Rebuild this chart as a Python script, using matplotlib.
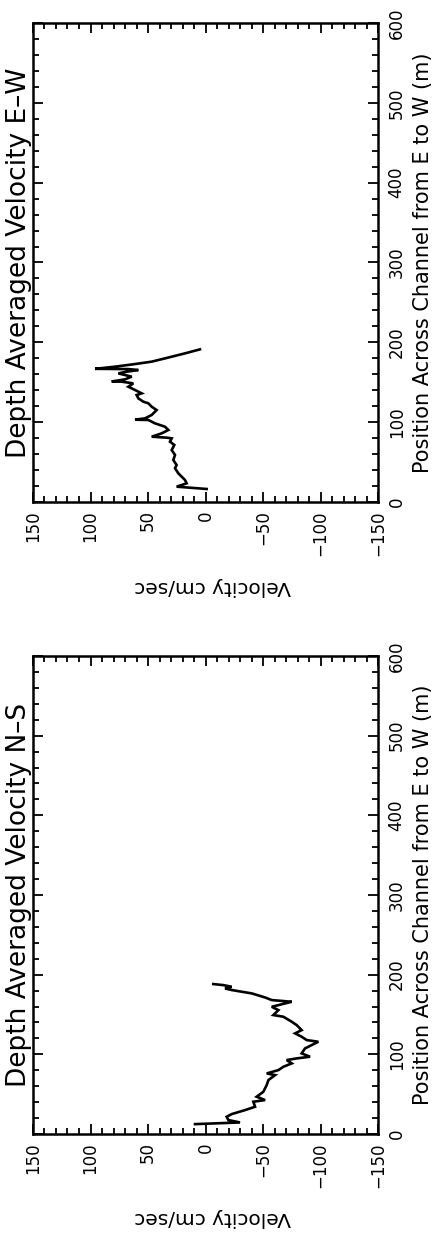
import matplotlib
matplotlib.use("Agg")
import matplotlib.pyplot as plt
from matplotlib.ticker import MultipleLocator, FixedLocator

# ---------------- data ----------------
titles = ["Depth Averaged Velocity E\u2013W", "Depth Averaged Velocity N\u2013S"]
xlabel = "Position Across Channel from E to W (m)"
ylabel = "Velocity cm/sec"

pos_ticks = [0, 100, 200, 300, 400, 500, 600]
pos_labels = ["0", "100", "200", "300", "400", "500", "600"]
vel_ticks = [150, 100, 50, 0, -50, -100, -150]
vel_labels = ["150", "100", "50", "0", "\u221250", "\u2212100", "\u2212150"]

ew_pos = [16.3, 19.2, 23.4, 27.5, 31.7, 35.9, 42.2, 46.3, 52.6, 58.9, 65.1, 71.4,
          75.6, 79.7, 80.6, 81.8, 86.0, 90.2, 94.3, 98.5, 102.7, 103.1, 104.8,
          109.0, 115.2, 119.4, 123.6, 125.7, 129.8, 134.0, 136.1, 140.3, 144.4,
          148.6, 150.7, 151.0, 153.6, 157.0, 161.1, 163.2, 165.3, 166.5, 166.8,
          169.5, 172.8, 175.8, 179.9, 186.2, 191.2]
ew_vel = [-1.0, 25.1, 16.4, 17.8, 20.7, 23.6, 26.5, 25.1, 28.0, 26.5, 29.4, 27.1,
          30.9, 29.4, 33.8, 46.8, 38.1, 32.3, 35.2, 43.9, 49.7, 61.3, 52.6,
          46.8, 42.5, 46.8, 49.7, 54.1, 58.4, 59.9, 55.5, 61.3, 67.1,
          62.8, 72.9, 81.6, 70.0, 64.2, 75.8, 68.6, 58.4, 67.1, 96.1,
          78.7, 61.3, 46.8, 35.2, 17.8, 4.8]

ns_pos = [12.4, 14.5, 17.5, 21.6, 25.0, 30.0, 34.2, 40.5, 42.6, 46.8, 53.0, 61.4,
          67.7, 73.9, 76.0, 80.2, 84.4, 88.6, 92.8, 94.9, 97.0, 101.2, 107.4,
          115.8, 117.9, 122.1, 126.3, 130.4, 136.7, 140.9, 147.2, 149.3, 155.5,
          159.7, 163.9, 166.0, 168.1, 171.4, 176.5, 180.7, 182.7, 184.8, 186.9,
          188.2]
ns_vel = [9.1, -30.0, -19.9, -18.4, -22.8, -34.4, -43.1, -41.6, -51.8, -44.5,
          -50.3, -53.2, -54.7, -60.5, -53.2, -63.4, -67.7, -75.0, -70.6, -79.3,
          -90.9, -83.6, -86.5, -98.1, -88.0, -83.6, -77.9, -83.6, -79.3, -75.0,
          -67.7, -59.0, -63.4, -57.6, -69.2, -75.0, -57.6, -51.8, -40.2, -22.8,
          -17.0, -22.8, -15.5, -6.8]

series = [(ew_pos, ew_vel), (ns_pos, ns_vel)]

# ---------------- figure ----------------
W, H = 436, 1234
fig = plt.figure(figsize=(W / 100, H / 100), dpi=100)
fig.patch.set_facecolor("white")

# axes boxes in pixels: (left, top, right, bottom)
boxes = [(33, 23, 378, 502), (33, 656, 378, 1134)]

for (l, t, r, b), (pos, vel), title in zip(boxes, series, titles):
    ax = fig.add_axes([l / W, 1 - b / H, (r - l) / W, (b - t) / H])
    # velocity horizontal (inverted), position vertical
    ax.plot(vel, pos, color="black", lw=1.9, solid_joinstyle="miter")
    ax.set_xlim(150, -150)
    ax.set_ylim(0, 600)

    ax.xaxis.set_major_locator(FixedLocator(vel_ticks))
    ax.set_xticklabels(vel_labels, rotation=90, va="top", ha="center", fontsize=12)
    ax.xaxis.set_minor_locator(MultipleLocator(10))
    ax.yaxis.set_major_locator(FixedLocator(pos_ticks))
    ax.set_yticklabels(pos_labels, rotation=90, va="center", ha="left", fontsize=12)
    ax.yaxis.set_minor_locator(MultipleLocator(20))

    ax.tick_params(axis="both", which="both", direction="in",
                   top=True, bottom=True, left=True, right=True,
                   labelleft=False, labelright=True, labelbottom=True, labeltop=False,
                   width=1.3, color="black")
    ax.tick_params(axis="both", which="major", length=7)
    ax.tick_params(axis="both", which="minor", length=4)
    ax.tick_params(axis="x", which="major", pad=6)
    ax.tick_params(axis="y", which="major", pad=7)
    for s in ax.spines.values():
        s.set_linewidth(1.8)
        s.set_color("black")

    # title (left side, rotated)
    fig.text(19 / W, 1 - (t + b) / 2 / H, title, rotation=90,
             ha="center", va="center", fontsize=19)
    # position label (right side, rotated)
    fig.text(423 / W, 1 - (t + b) / 2 / H, xlabel, rotation=90,
             ha="center", va="center", fontsize=15)
    # velocity label (below, upside down)
    fig.text(213 / W, 1 - (b + 84) / H, ylabel, rotation=180,
             ha="center", va="center", fontsize=14.5)

fig.savefig("out.png", dpi=100, facecolor="white")
